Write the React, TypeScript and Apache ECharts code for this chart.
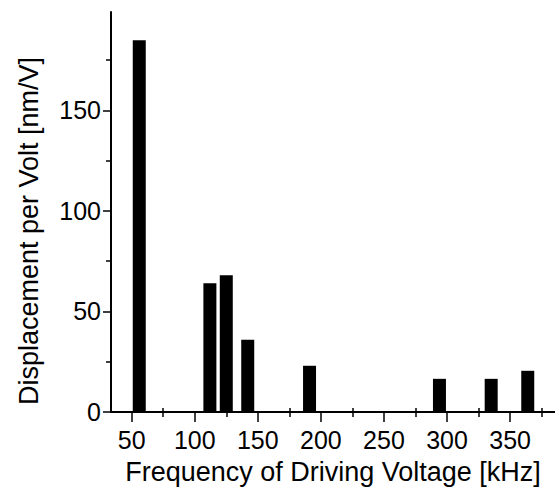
import React, { useEffect, useRef } from "react";
import * as echarts from "echarts";

const frequencies = [56, 112, 125, 142, 191, 294, 335, 364];
const displacements = [185, 64, 68, 36, 23, 16.5, 16.5, 20.5];
const xMajorTicks = [50, 100, 150, 200, 250, 300, 350];
const xMinorTicks = [75, 125, 175, 225, 275, 325, 375];
const yMajorTicks = [0, 50, 100, 150];
const yMinorTicks = [25, 75, 125, 175];
const xTitle = "Frequency of Driving Voltage [kHz]";
const yTitle = "Displacement per Volt [nm/V]";

const FONT = "'Liberation Sans', Arial, Helvetica, sans-serif";
const X_MIN = 33.6;
const X_MAX = 385.6;
const Y_MIN = 0;
const Y_MAX = 199;

export default function App() {
  const ref = useRef<HTMLDivElement>(null);
  useEffect(() => {
    if (!ref.current) return;
    const chart = echarts.init(ref.current, undefined, { renderer: "svg" });
    const baseX = {
      type: "value",
      min: X_MIN,
      max: X_MAX,
      position: "bottom",
      splitLine: { show: false },
    };
    const baseY = {
      type: "value",
      min: Y_MIN,
      max: Y_MAX,
      position: "left",
      splitLine: { show: false },
    };
    const tickLabelStyle = {
      fontSize: 25,
      color: "#000",
      fontFamily: FONT,
    };
    chart.setOption({
      animation: false,
      backgroundColor: "#ffffff",
      grid: { left: 111, right: 0, top: 12, bottom: 83, containLabel: false },
      xAxis: [
        {
          ...baseX,
          axisLine: { show: true, onZero: false, lineStyle: { color: "#000", width: 2 } },
          axisTick: { show: true, customValues: xMajorTicks, length: 10, lineStyle: { color: "#000", width: 1.5 } },
          axisLabel: { show: true, customValues: xMajorTicks, margin: 15, ...tickLabelStyle },
        },
        {
          ...baseX,
          axisLine: { show: false, onZero: false },
          axisTick: { show: true, customValues: xMinorTicks, length: 5, lineStyle: { color: "#000", width: 1.5 } },
          axisLabel: { show: false },
        },
        {
          ...baseX,
          axisLine: { show: false, onZero: false },
          axisTick: { show: true, inside: true, customValues: xMinorTicks, length: 4, lineStyle: { color: "#000", width: 1.5 } },
          axisLabel: { show: false },
        },
      ],
      yAxis: [
        {
          ...baseY,
          axisLine: { show: true, onZero: false, lineStyle: { color: "#000", width: 2 } },
          axisTick: { show: true, customValues: yMajorTicks, length: 8, lineStyle: { color: "#000", width: 1.5 } },
          axisLabel: { show: true, customValues: yMajorTicks, margin: 10, ...tickLabelStyle },
        },
        {
          ...baseY,
          axisLine: { show: false, onZero: false },
          axisTick: { show: true, customValues: yMinorTicks, length: 5, lineStyle: { color: "#000", width: 1.5 } },
          axisLabel: { show: false },
        },
      ],
      graphic: [
        {
          type: "text",
          x: 333,
          y: 472,
          style: {
            text: xTitle,
            fontSize: 27,
            fontFamily: FONT,
            fill: "#000",
            align: "center",
            verticalAlign: "middle",
          },
        },
        {
          type: "text",
          x: 29,
          y: 231,
          rotation: Math.PI / 2,
          style: {
            text: yTitle,
            fontSize: 27,
            fontFamily: FONT,
            fill: "#000",
            align: "center",
            verticalAlign: "middle",
          },
        },
      ],
      series: [
        {
          type: "bar",
          xAxisIndex: 0,
          yAxisIndex: 0,
          barWidth: 13,
          itemStyle: { color: "#000" },
          data: frequencies.map((f, i) => [f, displacements[i]]),
        },
      ],
    });
    return () => chart.dispose();
  }, []);
  return (
    <div
      ref={ref}
      style={{ position: "fixed", left: 0, top: 0, width: 555, height: 495, background: "#fff" }}
    />
  );
}
